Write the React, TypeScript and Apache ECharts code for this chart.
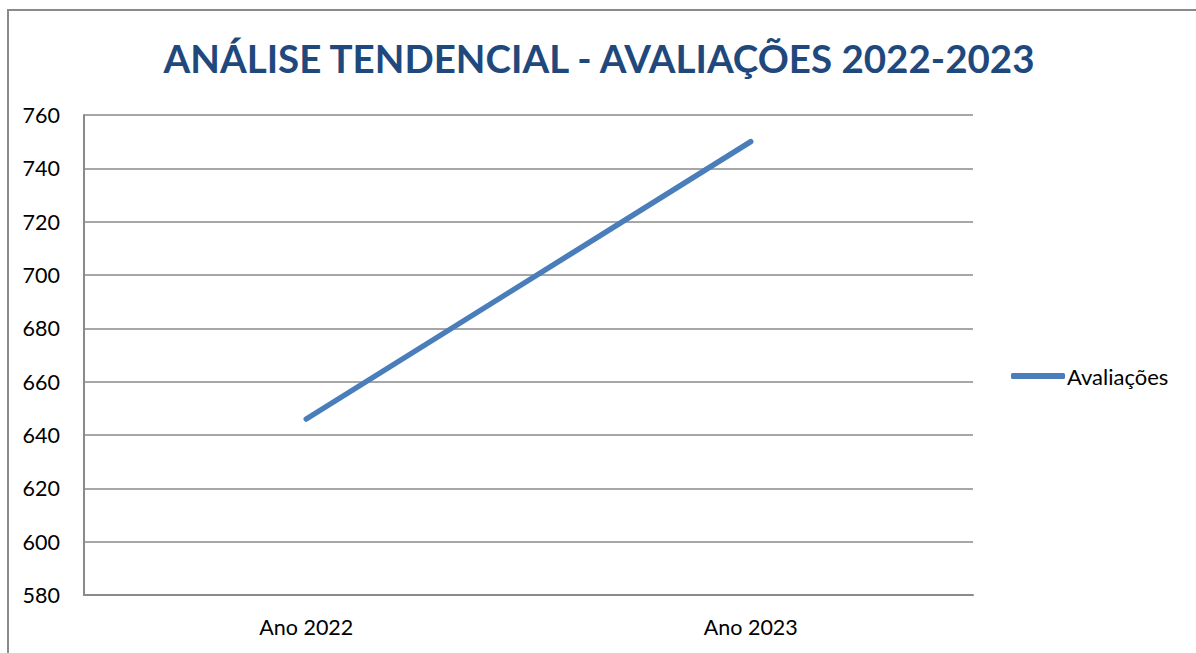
import React, { useEffect, useRef } from "react";
import * as echarts from "echarts";

const titleText = "ANÁLISE TENDENCIAL - AVALIAÇÕES 2022-2023";
const categories = ["Ano 2022", "Ano 2023"];
const seriesName = "Avaliações";
const values = [646, 750];

export default function App() {
  const ref = useRef<HTMLDivElement>(null);
  useEffect(() => {
    if (!ref.current) return;
    const chart = echarts.init(ref.current, undefined, { renderer: "svg" });
    chart.setOption({
      animation: false,
      backgroundColor: "#ffffff",
      textStyle: { fontFamily: "Lato" },
      title: {
        text: titleText,
        left: 594,
        textAlign: "center",
        top: 33,
        textStyle: { fontFamily: "Lato", fontWeight: "bold", fontSize: 38.5, color: "#1f497d" },
      },
      graphic: [
        {
          type: "rect",
          shape: { x: 8, y: 10, width: 1400, height: 900 },
          style: { fill: "none", stroke: "#8a8a8a", lineWidth: 2 },
          silent: true,
          z: -1,
        },
      ],
      legend: {
        data: [{ name: seriesName, icon: "roundRect" }],
        left: 1006,
        top: 360,
        itemWidth: 54,
        itemHeight: 6,
        itemGap: 4,
        textStyle: { fontFamily: "Lato", fontSize: 22, color: "#000", padding: [0, 0, 0, -3] },
      },
      grid: { left: 84, right: 223, top: 115, bottom: 58 },
      xAxis: {
        type: "category",
        data: categories,
        boundaryGap: true,
        axisTick: { show: false },
        axisLine: { lineStyle: { color: "#8a8a8a", width: 2 } },
        axisLabel: { fontFamily: "Lato", fontSize: 21.5, color: "#000", margin: 21 },
      },
      yAxis: {
        type: "value",
        min: 580,
        max: 760,
        interval: 20,
        axisLine: { show: true, lineStyle: { color: "#8a8a8a", width: 2 } },
        axisTick: { show: false },
        splitLine: { lineStyle: { color: "#8a8a8a", width: 1.5 } },
        axisLabel: { fontFamily: "Lato", fontSize: 21.5, color: "#000", margin: 24 },
      },
      series: [
        {
          name: seriesName,
          type: "line",
          data: values,
          symbol: "none",
          lineStyle: { color: "#4a7ebb", width: 5.5, cap: "round" },
          itemStyle: { color: "#4a7ebb" },
        },
      ],
    });
    return () => chart.dispose();
  }, []);
  return (
    <div
      ref={ref}
      style={{ position: "absolute", left: 0, top: 0, width: 1196, height: 653 }}
    />
  );
}
